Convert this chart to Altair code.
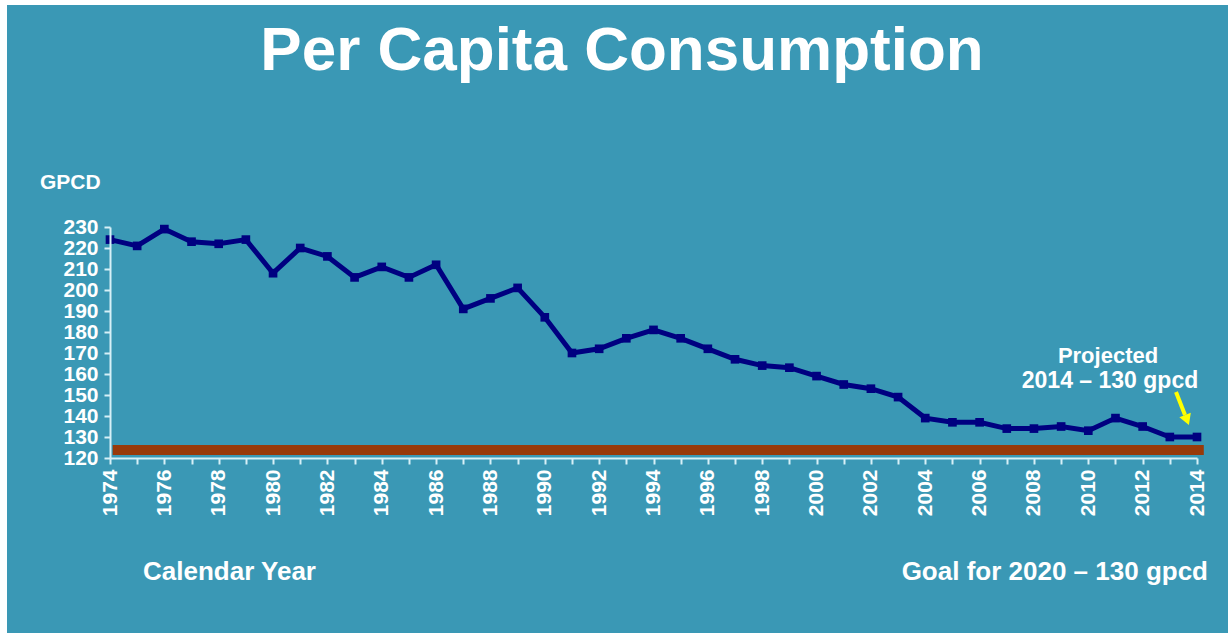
import altair as alt
import pandas as pd

# ---- data ----
years = [1974, 1975, 1976, 1977, 1978, 1979, 1980, 1981, 1982, 1983,
         1984, 1985, 1986, 1987, 1988, 1989, 1990, 1991, 1992, 1993,
         1994, 1995, 1996, 1997, 1998, 1999, 2000, 2001, 2002, 2003,
         2004, 2005, 2006, 2007, 2008, 2009, 2010, 2011, 2012, 2013, 2014]
gpcd = [224, 221, 229, 223, 222, 224, 208, 220, 216, 206,
        211, 206, 212, 191, 196, 201, 187, 170, 172, 177,
        181, 177, 172, 167, 164, 163, 159, 155, 153, 149,
        139, 137, 137, 134, 134, 135, 133, 139, 135, 130, 130]
y_ticks = [120, 130, 140, 150, 160, 170, 180, 190, 200, 210, 220, 230]
goal_band_low = [121.4]
goal_band_high = [126.2]
goal_band_start = [1974.1]
goal_band_end = [2014.25]

title_text = "Per Capita Consumption"
y_title = "GPCD"
x_title = "Calendar Year"
goal_text = "Goal for 2020 \u2013 130 gpcd"
proj_line1 = "Projected"
proj_line2 = "2014 \u2013 130 gpcd"

# ---- styling ----
BG = "#3A98B5"
NAVY = "#000080"
BROWN = "#983A0A"
AXIS = "#d6f0f7"
FONT = "Liberation Sans"

W, H = 1087, 231
PAD = {"left": 110, "top": 227, "right": 31, "bottom": 175}

df = pd.DataFrame({"year": years, "gpcd": gpcd})
band = pd.DataFrame({"x": goal_band_start, "x2": goal_band_end,
                     "y": goal_band_low, "y2": goal_band_high})
one = pd.DataFrame({"k": [0]})

x_scale = alt.Scale(domain=[1974, 2014], nice=False, zero=False)
y_scale = alt.Scale(domain=[120, 230], nice=False, zero=False)

x_axis = alt.Axis(values=years, format="d",
                  labelExpr="datum.value % 2 == 0 ? datum.label : ''",
                  labelAngle=270, labelAlign="right", labelBaseline="middle",
                  labelFont=FONT, labelFontSize=21, labelFontWeight="bold",
                  labelColor="white", labelPadding=5, labelOverlap=False,
                  labelFlush=False, zindex=1,
                  domainColor=AXIS, domainWidth=2, tickColor=AXIS, tickWidth=2,
                  tickSize=6, grid=False, title=None)
y_axis = alt.Axis(values=y_ticks, format="d",
                  labelFont=FONT, labelFontSize=21, labelFontWeight="bold",
                  labelColor="white", labelPadding=6, labelOverlap=False,
                  zindex=1,
                  domainColor=AXIS, domainWidth=2, tickColor=AXIS, tickWidth=2,
                  tickSize=6, grid=False, title=None)

bg = alt.Chart(one).mark_rect(color=BG).encode(
    x=alt.value(-103), x2=alt.value(W + PAD["right"]),
    y=alt.value(-222), y2=alt.value(H + PAD["bottom"]))

goal = alt.Chart(band).mark_rect(color=BROWN).encode(
    x=alt.X("x:Q", scale=x_scale, axis=x_axis),
    x2="x2:Q",
    y=alt.Y("y:Q", scale=y_scale, axis=y_axis),
    y2="y2:Q")

line = alt.Chart(df).mark_line(color=NAVY, strokeWidth=5).encode(
    x=alt.X("year:Q", scale=x_scale, axis=x_axis),
    y=alt.Y("gpcd:Q", scale=y_scale, axis=y_axis))

pts = alt.Chart(df).mark_point(shape="square", filled=True, color=NAVY,
                                size=75, opacity=1).encode(
    x=alt.X("year:Q", scale=x_scale, axis=x_axis),
    y=alt.Y("gpcd:Q", scale=y_scale, axis=y_axis))


def label(text, x, y, size, align="left"):
    return alt.Chart(one).mark_text(text=text, font=FONT, fontSize=size,
                                    fontWeight="bold", color="white",
                                    align=align, baseline="middle").encode(
        x=alt.value(x), y=alt.value(y))


t_title = label(title_text, 512, -176, 62, "center")
t_gpcd = label(y_title, -70, -44, 21)
t_cal = label(x_title, 33, 345, 26)
t_goal = label(goal_text, 1098, 345, 26, "right")
t_p1 = label(proj_line1, 998, 129, 22, "center")
t_p2 = label(proj_line2, 1000, 154, 23, "center")

arrow_shaft = alt.Chart(one).mark_rule(color="#FFFF00", strokeWidth=4).encode(
    x=alt.value(1066), y=alt.value(165), x2=alt.value(1075), y2=alt.value(188))
arrow_head = alt.Chart(one).mark_point(shape="triangle-down", filled=True,
                                        color="#FFFF00", size=150, opacity=1,
                                        angle=339).encode(
    x=alt.value(1077), y=alt.value(193))

chart = alt.layer(bg, goal, line, pts, t_title, t_gpcd, t_cal, t_goal,
                  t_p1, t_p2, arrow_shaft, arrow_head).properties(
    width=W, height=H,
    autosize=alt.AutoSizeParams(type="none"),
    padding=PAD,
    background="white",
).configure_view(stroke=None)

chart.save("out.html", embed_options={"renderer": "svg", "actions": False})
